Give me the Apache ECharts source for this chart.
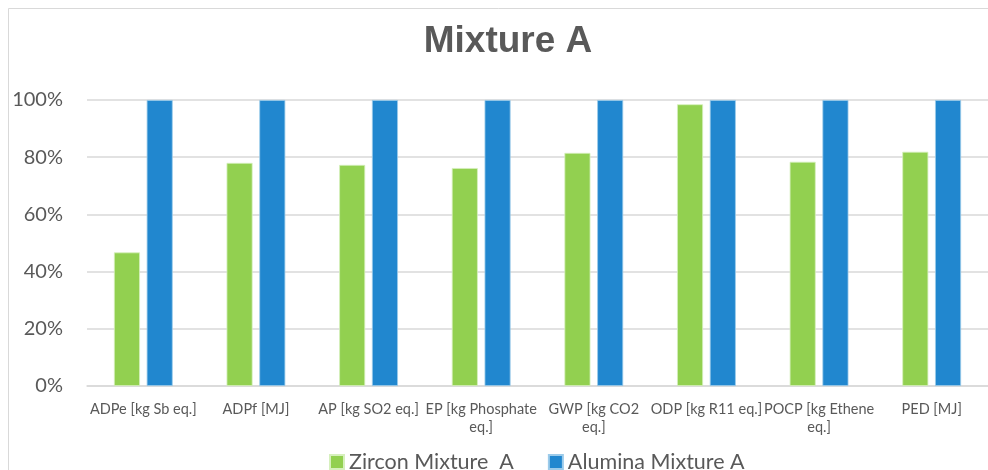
<!DOCTYPE html>
<html>
<head>
<meta charset="utf-8">
<script src="https://cdn.jsdelivr.net/npm/echarts@6/dist/echarts.min.js"></script>
<style>
html,body{margin:0;padding:0;background:#fff;}
#main{width:988px;height:470px;}
</style>
</head>
<body>
<div id="main"></div>
<script>
var categories = ['ADPe [kg Sb eq.]', 'ADPf [MJ]', 'AP [kg SO2 eq.]', 'EP [kg Phosphate eq.]', 'GWP [kg CO2 eq.]', 'ODP [kg R11 eq.]', 'POCP [kg Ethene eq.]', 'PED [MJ]'];
var tickLabels = ['ADPe [kg Sb eq.]', 'ADPf [MJ]', 'AP [kg SO2 eq.]', 'EP [kg Phosphate\neq.]', 'GWP [kg CO2\neq.]', 'ODP [kg R11 eq.]', 'POCP [kg Ethene\neq.]', 'PED [MJ]'];
var zirconValues = [46.7, 78.0, 77.3, 76.2, 81.5, 98.5, 78.4, 81.9];
var aluminaValues = [100, 100, 100, 100, 100, 100, 100, 100];
var seriesNames = ['Zircon Mixture  A', 'Alumina Mixture A'];
var yTicks = [0, 20, 40, 60, 80, 100];

var chart = echarts.init(document.getElementById('main'), null, {renderer: 'canvas'});
var font = 'Lato, "Open Sans", sans-serif';
chart.setOption({
  animation: false,
  backgroundColor: '#ffffff',
  graphic: [{
    type: 'rect', left: 6, top: 6, silent: true,
    shape: {width: 1000, height: 480},
    style: {fill: 'none', stroke: '#d9d9d9', lineWidth: 1}
  }],
  title: {
    text: 'Mixture A',
    left: 503, top: 18, textAlign: 'center',
    textStyle: {fontFamily: 'Liberation Sans, Arial, sans-serif', fontWeight: 'bold', fontSize: 37, color: '#595959'}
  },
  legend: {
    data: seriesNames,
    left: 324, top: 446,
    itemWidth: 14, itemHeight: 14, itemGap: 34,
    icon: 'rect',
    textStyle: {fontFamily: font, fontSize: 21.5, color: '#595959'}
  },
  grid: {left: 87, width: 912, top: 100, height: 286, containLabel: false},
  xAxis: {
    type: 'category',
    data: categories,
    axisLine: {show: true, lineStyle: {color: '#d9d9d9', width: 1.5}},
    axisTick: {show: false},
    axisLabel: {
      interval: 0, margin: 14, color: '#595959', fontFamily: font, fontSize: 14.5,
      lineHeight: 18,
      formatter: function (v, i) { return tickLabels[i]; }
    }
  },
  yAxis: {
    type: 'value', min: 0, max: 100, interval: 20,
    axisLine: {show: false}, axisTick: {show: false},
    splitLine: {lineStyle: {color: '#d9d9d9', width: 1.5}},
    axisLabel: {
      margin: 24, color: '#595959', fontFamily: font, fontSize: 20,
      formatter: function (v) { return yTicks.indexOf(v) >= 0 ? v + '%' : ''; }
    }
  },
  series: [{
    name: seriesNames[0], type: 'bar', data: zirconValues,
    barWidth: 26, barGap: '26%',
    itemStyle: {color: '#92d050', borderColor: '#d6f0bd', borderWidth: 0.8}
  }, {
    name: seriesNames[1], type: 'bar', data: aluminaValues,
    barWidth: 26, barGap: '26%',
    itemStyle: {color: '#2187cf', borderColor: '#9ccbea', borderWidth: 0.8}
  }]
});
</script>
</body>
</html>
